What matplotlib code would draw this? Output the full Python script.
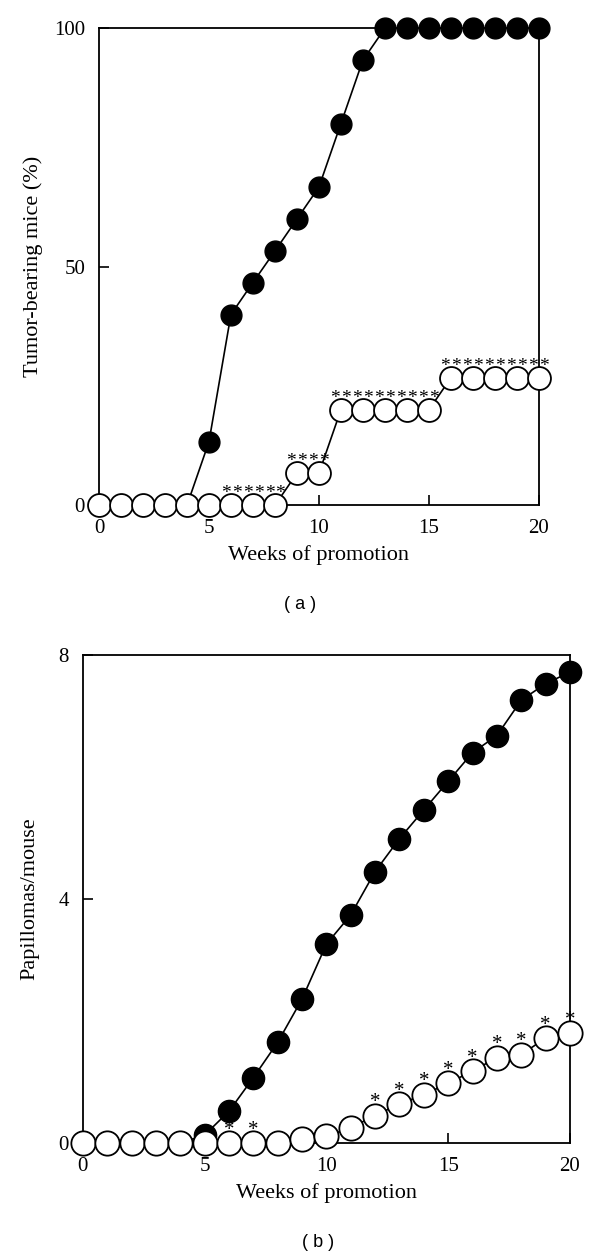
import numpy as np
import matplotlib
matplotlib.use('Agg')
import matplotlib.pyplot as plt

plt.rcParams['font.family'] = ['Liberation Serif', 'DejaVu Serif']

# ---- data ----
weeks = list(range(0, 21))

# (a) tumor-bearing mice (%)
a_filled = [0, 0, 0, 0, 0, 13.3, 40, 46.7, 53.3, 60, 66.7, 80, 93.3,
            100, 100, 100, 100, 100, 100, 100, 100]
a_open = [0, 0, 0, 0, 0, 0, 0, 0, 0, 6.7, 6.7, 20, 20, 20, 20, 20,
          26.7, 26.7, 26.7, 26.7, 26.7]
a_star_weeks = list(range(6, 21))      # "**" above open symbols

# (b) papillomas / mouse
b_filled = [0, 0, 0, 0, 0, 0.13, 0.52, 1.07, 1.65, 2.36, 3.26, 3.74, 4.45,
            4.99, 5.46, 5.93, 6.40, 6.68, 7.26, 7.53, 7.72]
b_open = [0, 0, 0, 0, 0, 0, 0, 0, 0, 0.06, 0.11, 0.25, 0.45, 0.64, 0.79,
          0.98, 1.18, 1.40, 1.45, 1.72, 1.80]
b_star_weeks = [6, 7, 12, 13, 14, 15, 16, 17, 18, 19, 20]


def style_axes(ax, ymax, yticks):
    ax.set_xlim(0, 20)
    ax.set_ylim(0, ymax)
    ax.set_xticks([0, 5, 10, 15, 20])
    ax.set_yticks(yticks)
    ax.tick_params(direction='in', length=7, width=1.2, labelsize=15)
    ax.tick_params(axis='x', pad=10)
    ax.tick_params(axis='y', pad=10)
    for s in ax.spines.values():
        s.set_linewidth(1.3)
    ax.set_xlabel('Weeks of promotion', fontsize=16, labelpad=5)


fig = plt.figure(figsize=(6, 12.57), dpi=100)

# ---------------- panel a ----------------
ax1 = fig.add_axes([0.165, 0.598, 0.733, 0.3795])
ax1.plot(weeks, a_filled, '-o', color='black', lw=1.2, ms=15,
         mfc='black', mec='black', clip_on=False, zorder=3)
ax1.plot(weeks, a_open, '-o', color='black', lw=1.2, ms=16.5,
         mfc='white', mec='black', mew=1.3, clip_on=False, zorder=4)
for w in a_star_weeks:
    for dx in (-0.25, 0.25):
        ax1.annotate('*', (w + dx, a_open[w]), xytext=(0, 5),
                     textcoords='offset points', ha='center', va='baseline',
                     fontsize=14, annotation_clip=False, zorder=6)
style_axes(ax1, 100, [0, 50, 100])
ax1.set_ylabel('Tumor-bearing mice (%)', fontsize=16, labelpad=8)
fig.text(0.5, 0.5187, '( a )', ha='center', va='center',
         fontsize=13, family='Liberation Sans')

# ---------------- panel b ----------------
ax2 = fig.add_axes([0.138, 0.0907, 0.812, 0.3882])
ax2.plot(weeks, b_filled, '-o', color='black', lw=1.2, ms=16,
         mfc='black', mec='black', clip_on=False, zorder=3)
ax2.plot(weeks, b_open, '-o', color='black', lw=1.2, ms=17.5,
         mfc='white', mec='black', mew=1.3, clip_on=False, zorder=4)
for w in b_star_weeks:
    ax2.annotate('*', (w, b_open[w]), xytext=(0, 6),
                 textcoords='offset points', ha='center', va='baseline',
                 fontsize=15, annotation_clip=False, zorder=6)
style_axes(ax2, 8, [0, 4, 8])
ax2.set_ylabel('Papillomas/mouse', fontsize=16, labelpad=14)
fig.text(0.53, 0.0119, '( b )', ha='center', va='center',
         fontsize=13, family='Liberation Sans')

fig.savefig('out.png', dpi=100)
